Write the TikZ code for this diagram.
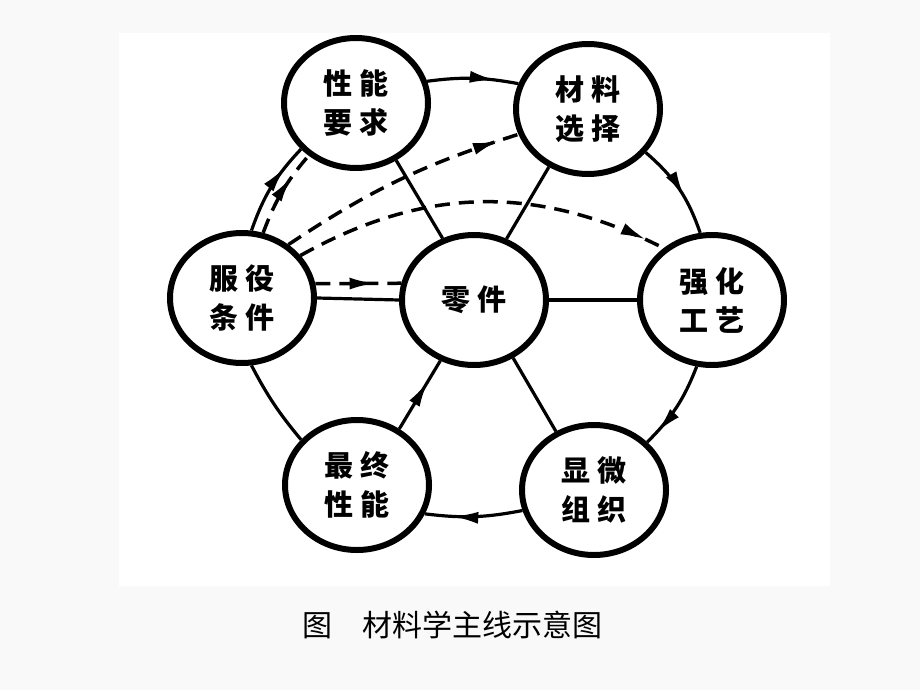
\documentclass[tikz,border=0pt]{standalone}
\usepackage{fontspec}
\newfontfamily\cjk{Noto Sans CJK SC}
\usetikzlibrary{arrows.meta,decorations.markings,shapes.geometric}

\begin{document}
\begin{tikzpicture}[x=1pt,y=-1pt,
    ring/.style={ellipse,draw,line width=6pt,minimum width=144pt,minimum height=130pt,
      inner sep=0pt,align=center,font=\cjk\bfseries\fontsize{29}{39}\selectfont},
    link/.style={line width=3.2pt},
    hint/.style={line width=3.5pt,dash pattern=on 15pt off 9pt},
    arr/.style={decoration={markings,mark=at position #1 with {\arrow{Latex[length=26pt,width=12pt]}}},
      postaction={decorate}}]
    \fill[gray!5] (0,0) rectangle (920,690);
    \fill[white] (119,33) rectangle (830,586);
    \useasboundingbox (0,0) rectangle (920,690);
    % the seven circles
    \node[ring] (xn) at (356,103) {性 能\\要 求};
    \node[ring] (cl) at (588,109) {材 料\\选 择};
    \node[ring] (fy) at (242,298) {服 役\\条 件};
    \node[ring] (lj) at (474,300) {零 件};
    \node[ring] (qh) at (712,300) {强 化\\工 艺};
    \node[ring] (zz) at (357,485) {最 终\\性 能};
    \node[ring] (xw) at (594,490) {显 微\\组 织};
    % outer ring
    \draw[link,arr=0.75] (xn.17) to[bend left=9] (cl.160);
    \draw[link,arr=0.6] (cl.-37) to[bend left=15] (qh.100);
    \draw[link,arr=0.85] (qh.-103) to[bend left=12] (xw.42);
    \draw[link,arr=0.72] (xw.196) to[bend left=9] (zz.-23);
    \draw[link] (zz.141) to[bend left=6] (fy.-82);
    \draw[link,arr=0.75] (fy.82) to[bend left=12] (xn.220);
    % spokes
    \draw[link] (fy.east) -- (lj.west);
    \draw[link] (lj.east) -- (qh.west);
    \draw[link] (lj.117) -- (xn.-55);
    \draw[link] (lj.62) -- (cl.236);
    \draw[link,arr=0.7] (zz.53) -- (lj.241);
    \draw[link] (lj.-56) -- (xw.123);
    % dashed
    \draw[hint,arr=0.7] (fy.11) -- (lj.167);
    \draw[hint,arr=0.7] (fy.72) to[bend left=10] (xn.228);
    \draw[hint,arr=0.92] (fy.49) to[bend left=8] (cl.200);
    \draw[hint,arr=0.95] (fy.36) to[bend left=28] (qh.133);
    \node[font=\cjk\fontsize{30}{30}\selectfont] (cap) at (452,625) {图　材料学主线示意图};
\end{tikzpicture}
\end{document}
